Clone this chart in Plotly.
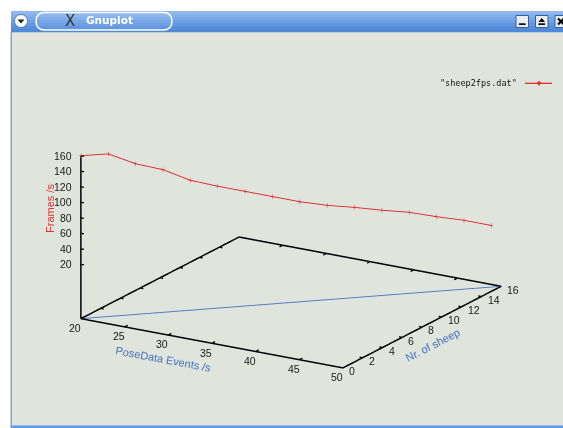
import math
import plotly.graph_objects as go

# ---------------- data ----------------
pose_events = [20, 22, 24, 26, 28, 30, 32, 34, 36, 38, 40, 42, 44, 46, 48, 50]
nr_sheep = [0, 1, 2, 3, 4, 5, 6, 7, 8, 9, 10, 11, 12, 13, 14, 15]
frames_per_s = [160, 160, 145, 135, 119, 109, 100, 91, 82, 75, 70, 64, 59, 51, 44, 35]

blue_x = [20, 50]
blue_y = [0, 16]

x_ticks = [20, 25, 30, 35, 40, 45, 50]
y_ticks = [0, 2, 4, 6, 8, 10, 12, 14, 16]
z_ticks = [20, 40, 60, 80, 100, 120, 140, 160]

x_range = [20, 50]
y_range = [0, 16]
z_data_range = [20, 160]
ticslevel = 0.5
z_base = z_data_range[0] - ticslevel * (z_data_range[1] - z_data_range[0])

W, H = 563, 428

def px(x):
    return x / W

def py(y):
    return 1 - y / H

# ---------------- 3D traces ----------------
fig = go.Figure()

bx = [x_range[0], x_range[1], x_range[1], x_range[0], x_range[0]]
by = [y_range[0], y_range[0], y_range[1], y_range[1], y_range[0]]
fig.add_trace(go.Scatter3d(x=bx, y=by, z=[z_base] * 5, mode='lines',
                           line=dict(color='black', width=3), hoverinfo='skip'))
fig.add_trace(go.Scatter3d(x=[x_range[0]] * 2, y=[y_range[0]] * 2,
                           z=[z_base, z_data_range[1]], mode='lines',
                           line=dict(color='black', width=3), hoverinfo='skip'))

tx, ty, tz = [], [], []
dx_t = 0.012 * (x_range[1] - x_range[0])
dy_t = 0.02 * (y_range[1] - y_range[0])
for v in x_ticks:
    tx += [v, v, None, v, v, None]
    ty += [y_range[0], y_range[0] + dy_t, None, y_range[1], y_range[1] - dy_t, None]
    tz += [z_base, z_base, None, z_base, z_base, None]
for v in y_ticks:
    tx += [x_range[1], x_range[1] - dx_t, None, x_range[0], x_range[0] + dx_t, None]
    ty += [v, v, None, v, v, None]
    tz += [z_base, z_base, None, z_base, z_base, None]
for v in z_ticks:
    tx += [x_range[0], x_range[0] + dx_t, None]
    ty += [y_range[0], y_range[0], None]
    tz += [v, v, None]
fig.add_trace(go.Scatter3d(x=tx, y=ty, z=tz, mode='lines',
                           line=dict(color='black', width=2.5), hoverinfo='skip'))

fig.add_trace(go.Scatter3d(x=blue_x, y=blue_y, z=[z_base] * len(blue_x), mode='lines',
                           line=dict(color='#4a72c4', width=1.8), hoverinfo='skip'))

fig.add_trace(go.Scatter3d(x=pose_events, y=nr_sheep, z=frames_per_s,
                           mode='lines+markers', name='"sheep2fps.dat"',
                           line=dict(color='#e02020', width=1.8),
                           marker=dict(symbol='cross', size=2.4, color='#e02020')))

# ---------------- camera (gnuplot-like view) ----------------
elev = math.radians(18.14)
azim = math.radians(-(90 - 31.12))
dist = 2.0
eye = dict(x=dist * math.cos(elev) * math.cos(azim),
           y=dist * math.cos(elev) * math.sin(azim),
           z=dist * math.sin(elev))

axis_common = dict(showgrid=False, zeroline=False, showline=False, showbackground=False,
                   ticks='', showticklabels=False, showspikes=False, title=dict(text=''))

tick_font = dict(family='Liberation Sans, Arial, sans-serif', size=10.5, color='#1a1a1a')
scene_ann = []
for v in x_ticks:
    scene_ann.append(dict(x=v, y=y_range[0], z=z_base, text=str(v), showarrow=False,
                          xanchor='center', yanchor='middle', xshift=-5.5, yshift=-9.3, font=tick_font))
for v in y_ticks:
    scene_ann.append(dict(x=x_range[1], y=v, z=z_base, text=str(v), showarrow=False,
                          xanchor='left', yanchor='middle', xshift=4.3, yshift=-3.4, font=tick_font))
for v in z_ticks:
    scene_ann.append(dict(x=x_range[0], y=y_range[0], z=v, text=str(v), showarrow=False,
                          xanchor='right', yanchor='middle', xshift=-6.5, yshift=0, font=tick_font))

# pad the scene ranges slightly so the border lines are not clipped
pad = 0.02
def padded(lo, hi):
    s = hi - lo
    return [lo - pad * s, hi + pad * s]

scale = 1.479 * (1 + 2 * pad)
fig.update_layout(
    width=W, height=H, margin=dict(l=0, r=0, t=0, b=0),
    paper_bgcolor='white', showlegend=False,
    scene=dict(
        domain=dict(x=[0.033, 1.0], y=[0.0, 0.9678]),
        bgcolor='rgba(0,0,0,0)',
        aspectmode='manual', aspectratio=dict(x=scale, y=scale, z=0.56 * scale),
        camera=dict(eye=eye, up=dict(x=0, y=0, z=1), center=dict(x=0, y=0, z=0),
                    projection=dict(type='orthographic')),
        xaxis=dict(range=padded(*x_range), **axis_common),
        yaxis=dict(range=padded(*y_range), **axis_common),
        zaxis=dict(range=padded(z_base, z_data_range[1]), **axis_common),
        annotations=scene_ann,
    ),
)

# ---------------- window chrome ----------------
shapes = []
shapes.append(dict(type='rect', xref='paper', yref='paper', x0=px(12), x1=px(W), y0=py(426), y1=py(32),
                   fillcolor='#dfe5dd', line=dict(width=0), layer='below'))
shapes.append(dict(type='rect', xref='paper', yref='paper', x0=px(10.5), x1=px(12), y0=py(426), y1=py(32),
                   fillcolor='#8aa4c8', line=dict(width=0), layer='below'))
shapes.append(dict(type='rect', xref='paper', yref='paper', x0=px(10.5), x1=px(W), y0=py(H), y1=py(425.5),
                   fillcolor='#5c9be6', line=dict(width=0), layer='below'))
grad = ['#8fb8ee', '#84b0eb', '#78a8e8', '#6c9fe4', '#6197e0', '#578fdc', '#4f89d8']
band_h = (32 - 11) / len(grad)
for i, c in enumerate(grad):
    shapes.append(dict(type='rect', xref='paper', yref='paper', x0=px(11), x1=px(W),
                       y0=py(11 + (i + 1) * band_h + 0.3), y1=py(11 + i * band_h),
                       fillcolor=c, line=dict(width=0), layer='below'))
shapes.append(dict(type='circle', xref='paper', yref='paper', x0=px(14.5), x1=px(27.5), y0=py(27.5), y1=py(14.5),
                   fillcolor='white', line=dict(color='#5a7fb8', width=1), layer='below'))
shapes.append(dict(type='path', xref='paper', yref='paper',
                   path=f'M {px(17.5)} {py(19.5)} L {px(24.5)} {py(19.5)} L {px(21)} {py(23.5)} Z',
                   fillcolor='#222', line=dict(width=0), layer='below'))
r = 9
x0p, x1p, y0p, y1p = 36, 172, 12.5, 30
pill = (f'M {px(x0p + r)} {py(y0p)} L {px(x1p - r)} {py(y0p)} '
        f'Q {px(x1p)} {py(y0p)} {px(x1p)} {py((y0p + y1p) / 2)} '
        f'Q {px(x1p)} {py(y1p)} {px(x1p - r)} {py(y1p)} '
        f'L {px(x0p + r)} {py(y1p)} '
        f'Q {px(x0p)} {py(y1p)} {px(x0p)} {py((y0p + y1p) / 2)} '
        f'Q {px(x0p)} {py(y0p)} {px(x0p + r)} {py(y0p)} Z')
shapes.append(dict(type='path', xref='paper', yref='paper', path=pill,
                   fillcolor='rgba(255,255,255,0.08)', line=dict(color='white', width=1.5), layer='below'))
for bx0 in [516, 535.5, 555]:
    shapes.append(dict(type='rect', xref='paper', yref='paper', x0=px(bx0), x1=px(bx0 + 12.5), y0=py(27.5), y1=py(15.5),
                       fillcolor='#e9ecf0', line=dict(color='#3a5f9a', width=1), layer='below'))
shapes.append(dict(type='rect', xref='paper', yref='paper', x0=px(519), x1=px(525.5), y0=py(25), y1=py(23.3),
                   fillcolor='black', line=dict(width=0), layer='below'))
shapes.append(dict(type='path', xref='paper', yref='paper',
                   path=f'M {px(538.5)} {py(22)} L {px(545)} {py(22)} L {px(541.75)} {py(18)} Z',
                   fillcolor='black', line=dict(width=0), layer='below'))
shapes.append(dict(type='rect', xref='paper', yref='paper', x0=px(538.5), x1=px(545), y0=py(25), y1=py(23.3),
                   fillcolor='black', line=dict(width=0), layer='below'))
shapes.append(dict(type='line', xref='paper', yref='paper', x0=px(558), x1=px(564), y0=py(18.5), y1=py(24.5),
                   line=dict(color='black', width=2), layer='below'))
shapes.append(dict(type='line', xref='paper', yref='paper', x0=px(558), x1=px(564), y0=py(24.5), y1=py(18.5),
                   line=dict(color='black', width=2), layer='below'))
shapes.append(dict(type='line', xref='paper', yref='paper', x0=px(525), x1=px(552), y0=py(83.3), y1=py(83.3),
                   line=dict(color='#e02020', width=1.2), layer='above'))
shapes.append(dict(type='line', xref='paper', yref='paper', x0=px(536.5), x1=px(541.5), y0=py(83.3), y1=py(83.3),
                   line=dict(color='#e02020', width=1.5), layer='above'))
shapes.append(dict(type='line', xref='paper', yref='paper', x0=px(539), x1=px(539), y0=py(81), y1=py(85.6),
                   line=dict(color='#e02020', width=1.5), layer='above'))

def ann(text, x, y, **kw):
    d = dict(text=text, x=px(x), y=py(y), xref='paper', yref='paper', showarrow=False,
             xanchor='center', yanchor='middle')
    d.update(kw)
    return d

annotations = [
    ann('X', 70, 21, font=dict(family='DejaVu Sans', size=15, color='#333333')),
    ann('<b>Gnuplot</b>', 83.5, 20.5, xanchor='left',
        font=dict(family='DejaVu Sans', size=10.5, color='white')),
    ann('"sheep2fps.dat"', 519, 83.3, xanchor='right',
        font=dict(family='DejaVu Sans Mono', size=8.5, color='#111111')),
    ann('PoseData Events /s', 163.3, 358.5, textangle=10.6,
        font=dict(family='Liberation Sans, Arial', size=11, color='#4470c4')),
    ann('Nr. of sheep', 432.5, 345, textangle=-27.3,
        font=dict(family='Liberation Sans, Arial', size=11, color='#4470c4')),
    ann('Frames /s', 50.7, 208.3, textangle=-90,
        font=dict(family='Liberation Sans, Arial', size=11, color='#dd3333')),
]

fig.update_layout(shapes=shapes, annotations=annotations, hovermode=False)
fig.write_html("out.html", config={'displayModeBar': False},
               post_script="document.body.style.margin='0';document.body.style.overflow='hidden';")
